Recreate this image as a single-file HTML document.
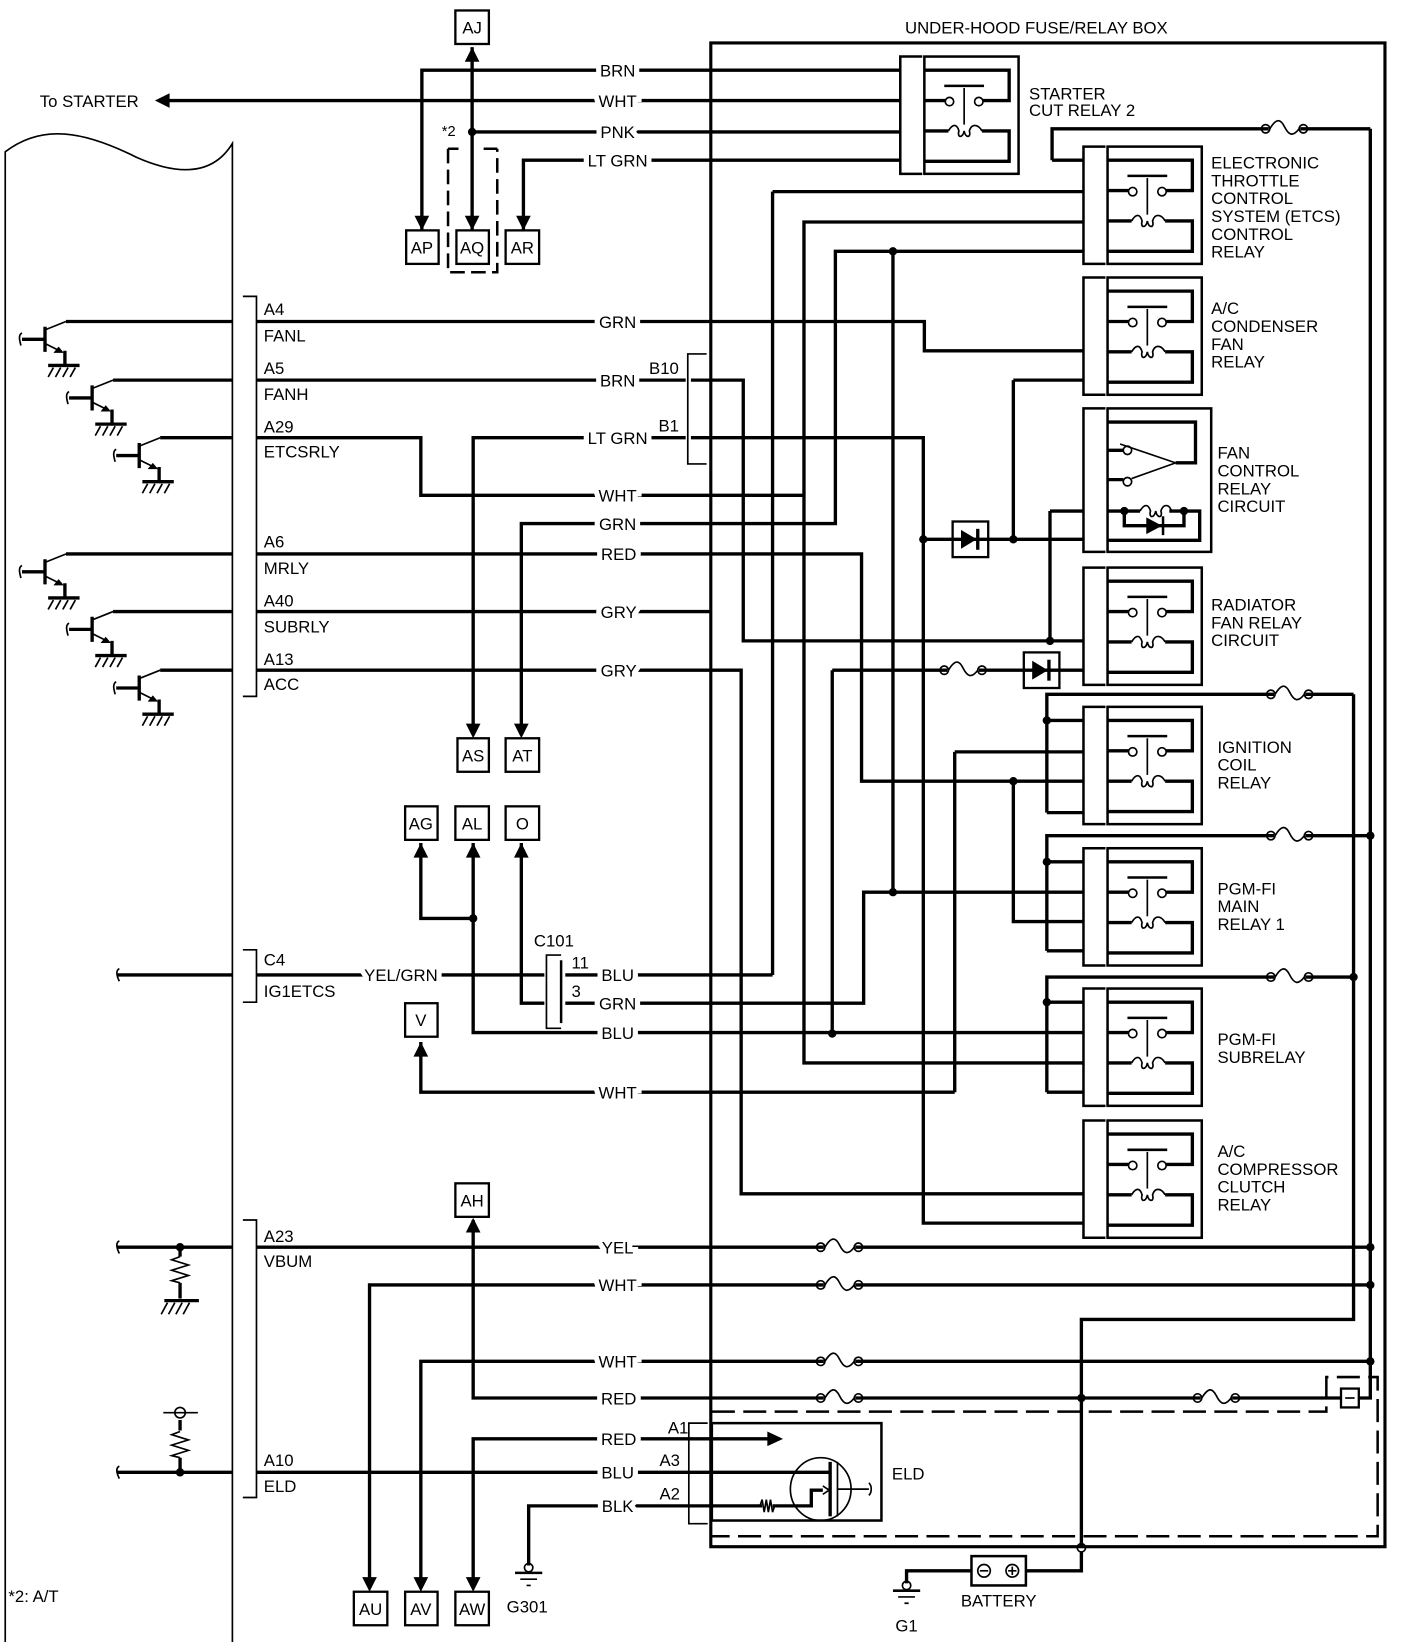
<!DOCTYPE html>
<html><head><meta charset="utf-8"><style>
html,body{margin:0;padding:0;background:#fff}
svg{display:block}
text{font-family:"Liberation Sans",Arial,sans-serif;font-size:16px;fill:#000}
.w{fill:none;stroke:#000;stroke-width:3.2;stroke-linejoin:miter}
.t{fill:none;stroke:#000;stroke-width:1.6}
.m{fill:none;stroke:#000;stroke-width:2.4}
.l{paint-order:stroke;stroke:#fff;stroke-width:10px;text-anchor:middle}
.bx{fill:#fff;stroke:#000;stroke-width:2.2}
</style></head><body>
<svg width="1408" height="1642" viewBox="0 0 1345 1568" preserveAspectRatio="none" xmlns="http://www.w3.org/2000/svg">
<defs>
<g id="rl">
<path class="m" d="M21,-13H0V99H21"/>
<rect class="m" x="23" y="-13" width="90" height="112"/>
<path class="w" d="M23,0H104V29H79 M23,29H43 M23,58H46 M78,58H104V87H23"/>
<circle class="t" cx="47" cy="30" r="4" fill="#fff"/><circle class="t" cx="75" cy="30" r="4" fill="#fff"/>
<path class="m" d="M42,15H80"/><path class="t" d="M61,17V52"/>
<path class="t" d="M46,58c4,-7 8,-7 10,0c-2,7 4,7 5,0c1,7 7,7 5,0c2,-7 8,-7 12,0"/>
</g>
<g id="fu"><path d="M-15,0H15" stroke="#fff" stroke-width="6"/><circle class="t" cx="-18" cy="0" r="4" fill="#fff"/><circle class="t" cx="18" cy="0" r="4" fill="#fff"/><path class="t" d="M-14,0C-8,-10 -4,-10 0,-2S8,8 14,0"/></g>
<g id="di"><rect class="bx" x="-17" y="-17" width="34" height="34"/><path class="w" d="M-17,0H17"/><polygon points="-9,-9 -9,9 6,0" fill="#000"/><path class="w" d="M7,-10V10"/></g>
<g id="au"><polygon points="0,0 -7,14 7,14" fill="#000"/></g>
<g id="ad"><polygon points="0,0 -7,-14 7,-14" fill="#000"/></g>
<g id="tr">
<path class="t" d="M20,0L0,8"/><path class="w" d="M0,5V29 M-22,17H0"/>
<path class="t" d="M-22,11c-4,2 -2,8 -1,12"/>
<path class="t" d="M0,21L16,29"/><polygon points="18,30 8,30 13,24" fill="#000"/>
<path class="w" d="M19,28V42 M3,42H33"/>
<path class="t" d="M8,44l-5,9 M15,44l-5,9 M22,44l-5,9 M29,44l-5,9"/>
</g>
</defs>

<!-- ECM -->
<path class="t" d="M5,1570V145C40,118 80,125 130,150C175,170 205,165 222,137V1570"/>
<path class="t" d="M232,283H245V665H232 M232,907H245V957H232 M232,1165H245V1430H232"/>
<text x="252" y="301">A4</text><text x="252" y="326">FANL</text>
<text x="252" y="357">A5</text><text x="252" y="382">FANH</text>
<text x="252" y="413">A29</text><text x="252" y="437">ETCSRLY</text>
<text x="252" y="523">A6</text><text x="252" y="548">MRLY</text>
<text x="252" y="579">A40</text><text x="252" y="604">SUBRLY</text>
<text x="252" y="635">A13</text><text x="252" y="659">ACC</text>
<text x="252" y="922">C4</text><text x="252" y="952">IG1ETCS</text>
<text x="252" y="1186">A23</text><text x="252" y="1210">VBUM</text>
<text x="252" y="1400">A10</text><text x="252" y="1425">ELD</text>
<use href="#tr" x="43" y="307"/><use href="#tr" x="88" y="363"/><use href="#tr" x="133" y="418"/>
<use href="#tr" x="43" y="529"/><use href="#tr" x="88" y="584"/><use href="#tr" x="133" y="640"/>
<path class="w" d="M63,307H222 M108,363H222 M153,418H222 M63,529H222 M108,584H222 M153,640H222"/>
<path class="w" d="M112,931H222 M112,1191H222 M112,1406H222"/>
<path class="t" d="M114,925c-4,2 -2,8 0,12 M114,1185c-4,2 -2,8 0,12 M114,1400c-4,2 -2,8 0,12"/>
<!-- VBUM resistor -->
<circle cx="172" cy="1191" r="4"/>
<path class="w" d="M172,1191V1200 M172,1225V1240 M157,1242H190"/>
<path class="t" d="M172,1200l-8,3 16,5 -16,5 16,5 -16,5 8,2 M160,1244l-6,11 M167,1244l-6,11 M174,1244l-6,11 M181,1244l-6,11"/>
<!-- ELD pullup -->
<path class="w" d="M172,1406V1392 M172,1366V1356"/>
<path class="t" d="M156,1349H189 M172,1367l-8,3 16,5 -16,5 16,5 -16,5 8,2"/>
<circle class="t" cx="172" cy="1349" r="5" fill="#fff"/><circle cx="172" cy="1406" r="4"/>

<!-- top area -->
<text x="38" y="102">To STARTER</text>
<polygon points="148,96 162,89 162,103" fill="#000"/>
<path class="w" d="M160,96H860 M403,220V67H860 M451,45V220 M451,126H860 M500,220V153H860"/>
<circle cx="451" cy="126" r="4"/>
<use href="#au" x="451" y="45"/><use href="#ad" x="403" y="220"/><use href="#ad" x="451" y="220"/><use href="#ad" x="500" y="220"/>
<text x="422" y="130" style="font-size:14px">*2</text>
<path class="m" d="M428,142V260H475V142" stroke-dasharray="14,6"/>
<path class="m" d="M428,142H438 M462,142H475"/>
<rect class="bx" x="435" y="10" width="32" height="32"/><text x="451" y="32" text-anchor="middle">AJ</text>
<rect class="bx" x="388" y="220" width="31" height="32"/><text x="403" y="242" text-anchor="middle">AP</text>
<rect class="bx" x="436" y="220" width="31" height="32"/><text x="451" y="242" text-anchor="middle">AQ</text>
<rect class="bx" x="483" y="220" width="32" height="32"/><text x="499" y="242" text-anchor="middle">AR</text>

<!-- main box -->
<rect x="679" y="41" width="644" height="1436" fill="none" stroke="#000" stroke-width="3"/>
<text x="990" y="32" text-anchor="middle">UNDER-HOOD FUSE/RELAY BOX</text>
<path class="m" d="M680,1348H1267V1315H1316V1467H680" stroke-dasharray="22,8"/>

<!-- relays -->
<use href="#rl" x="860" y="67"/>
<use href="#rl" x="1035" y="153"/>
<use href="#rl" x="1035" y="278"/>
<use href="#rl" x="1035" y="555"/>
<use href="#rl" x="1035" y="688"/>
<use href="#rl" x="1035" y="823"/>
<use href="#rl" x="1035" y="957"/>
<use href="#rl" x="1035" y="1083"/>
<!-- fan control relay -->
<g transform="translate(1035,403)">
<path class="m" d="M21,-13H0V124H21"/>
<rect class="m" x="23" y="-13" width="99" height="137"/>
<path class="w" d="M23,0H107V39H88 M23,27H38 M23,55H38 M23,85H54 M82,85H111V113H23 M39,85V99H96V85"/>
<circle class="t" cx="42" cy="27" r="4" fill="#fff"/><circle class="t" cx="42" cy="57" r="4" fill="#fff"/>
<path class="t" d="M88,39L35,21 M88,39L46,54"/>
<path class="t" d="M54,85c4,-7 8,-7 10,0c-2,7 4,7 5,0c1,7 7,7 5,0c2,-7 8,-7 10,0"/>
<circle cx="39" cy="85" r="4"/><circle cx="96" cy="85" r="4"/>
<polygon points="60,91 60,107 75,99" fill="#000"/><path class="m" d="M76,90V108"/>
</g>
<g font-size="16">
<text x="983" y="95">STARTER</text><text x="983" y="111">CUT RELAY 2</text>
<text x="1157" y="161">ELECTRONIC</text><text x="1157" y="178">THROTTLE</text><text x="1157" y="195">CONTROL</text><text x="1157" y="212">SYSTEM (ETCS)</text><text x="1157" y="229">CONTROL</text><text x="1157" y="246">RELAY</text>
<text x="1157" y="300">A/C</text><text x="1157" y="317">CONDENSER</text><text x="1157" y="334">FAN</text><text x="1157" y="351">RELAY</text>
<text x="1163" y="438">FAN</text><text x="1163" y="455">CONTROL</text><text x="1163" y="472">RELAY</text><text x="1163" y="489">CIRCUIT</text>
<text x="1157" y="583">RADIATOR</text><text x="1157" y="600">FAN RELAY</text><text x="1157" y="617">CIRCUIT</text>
<text x="1163" y="719">IGNITION</text><text x="1163" y="736">COIL</text><text x="1163" y="753">RELAY</text>
<text x="1163" y="854">PGM-FI</text><text x="1163" y="871">MAIN</text><text x="1163" y="888">RELAY 1</text>
<text x="1163" y="998">PGM-FI</text><text x="1163" y="1015">SUBRELAY</text>
<text x="1163" y="1105">A/C</text><text x="1163" y="1122">COMPRESSOR</text><text x="1163" y="1139">CLUTCH</text><text x="1163" y="1156">RELAY</text>
</g>

<!-- B connector -->
<path class="t" d="M675,338H657V443H675"/>
<text x="620" y="357">B10</text><text x="629" y="412">B1</text>

<!-- wires middle -->
<path class="w" d="
M245,307H883V335H1035
M245,363H655 M660,363H710V612H1035
M452,700V418H655 M660,418H882V1168H1035
M245,418H402V473H768V212H1035 M768,473V1015H1035
M498,700V500H798V240H1035
M245,529H823V746H1035
M245,584H680
M245,640H708V1140H1035
M738,183H1035 M738,183V931
M853,240V852
M968,363H1035 M968,363V515
M882,515H1035
M1003,488H1035 M1003,488V612
M795,640H1035 M795,640V987
M912,718H1035 M912,718V1043
M968,746V880H1035
M1005,153H1035 M1005,153V123H1309
M1000,776V663H1293 M1000,688H1035 M1000,776H1035
M1000,908V798H1309 M1000,823H1035 M1000,908H1035
M1000,1043V933H1293 M1000,957H1035 M1000,1043H1035
M1293,663V1260H1033V1478
M1309,123V1335H1298
"/>
<use href="#ad" x="452" y="705"/><use href="#ad" x="498" y="705"/>
<g fill="#000">
<circle cx="853" cy="240" r="4"/><circle cx="853" cy="852" r="4"/><circle cx="968" cy="515" r="4"/><circle cx="882" cy="515" r="4"/>
<circle cx="1003" cy="612" r="4"/><circle cx="795" cy="987" r="4"/><circle cx="968" cy="746" r="4"/>
<circle cx="1000" cy="688" r="4"/><circle cx="1000" cy="823" r="4"/><circle cx="1000" cy="957" r="4"/>
<circle cx="1309" cy="798" r="4"/><circle cx="1293" cy="933" r="4"/><circle cx="1309" cy="1191" r="4"/><circle cx="1309" cy="1227" r="4"/><circle cx="1309" cy="1300" r="4"/><circle cx="1033" cy="1335" r="4"/>
<circle cx="452" cy="877" r="4"/>
</g>
<use href="#di" x="927" y="515"/><use href="#di" x="995" y="640"/>
<use href="#fu" x="920" y="640"/>
<use href="#fu" x="1227" y="123"/><use href="#fu" x="1232" y="663"/><use href="#fu" x="1232" y="798"/><use href="#fu" x="1232" y="933"/>
<rect class="bx" x="437" y="705" width="30" height="32"/><text x="452" y="727" text-anchor="middle">AS</text>
<rect class="bx" x="483" y="705" width="32" height="32"/><text x="499" y="727" text-anchor="middle">AT</text>

<!-- C101 area -->
<path class="w" d="M245,931H520 M540,931H738 M498,805V958H520 M540,958H825V852H1035 M452,805V986H1035 M402,805V877H452 M402,995V1043H912"/>
<use href="#au" x="402" y="805"/><use href="#au" x="452" y="805"/><use href="#au" x="498" y="805"/><use href="#au" x="402" y="995"/>
<path class="t" d="M536,912H522V982H536"/><path class="m" d="M536,917V977"/>
<text x="510" y="904">C101</text><text x="546" y="925">11</text><text x="546" y="952">3</text>
<rect class="bx" x="387" y="770" width="31" height="32"/><text x="402" y="792" text-anchor="middle">AG</text>
<rect class="bx" x="435" y="770" width="32" height="32"/><text x="451" y="792" text-anchor="middle">AL</text>
<rect class="bx" x="483" y="770" width="32" height="32"/><text x="499" y="792" text-anchor="middle">O</text>
<rect class="bx" x="387" y="958" width="31" height="32"/><text x="402" y="980" text-anchor="middle">V</text>

<!-- bottom -->
<path class="w" d="M245,1191H1309 M353,1510V1227H1309 M402,1510V1300H1309 M452,1165V1335H1281 M452,1510V1374H745 M245,1406H792 M505,1495V1438H730 M738,1438H775V1423H786"/>
<use href="#au" x="452" y="1163"/><use href="#ad" x="353" y="1520"/><use href="#ad" x="402" y="1520"/><use href="#ad" x="452" y="1520"/>
<polygon points="748,1374 733,1367 733,1381" fill="#000"/>
<use href="#fu" x="802" y="1191"/><use href="#fu" x="802" y="1227"/><use href="#fu" x="802" y="1300"/><use href="#fu" x="802" y="1335"/><use href="#fu" x="1162" y="1335"/>
<rect class="bx" x="1281" y="1326" width="17" height="18"/><path class="t" d="M1285,1335H1294"/>
<rect class="bx" x="435" y="1130" width="32" height="32"/><text x="451" y="1152" text-anchor="middle">AH</text>
<rect class="bx" x="338" y="1520" width="32" height="32"/><text x="354" y="1542" text-anchor="middle">AU</text>
<rect class="bx" x="387" y="1520" width="31" height="32"/><text x="402" y="1542" text-anchor="middle">AV</text>
<rect class="bx" x="435" y="1520" width="32" height="32"/><text x="451" y="1542" text-anchor="middle">AW</text>
<circle class="t" cx="505" cy="1497" r="4" fill="#fff"/><path class="m" d="M492,1502H518"/><path class="t" d="M497,1508H513 M503,1514H507"/>
<text x="484" y="1540">G301</text>
<text x="8" y="1530">*2: A/T</text>
<!-- ELD -->
<path class="t" d="M676,1359H658V1455H676"/>
<rect x="680" y="1359" width="162" height="93" fill="none" stroke="#000" stroke-width="2.4"/>
<text x="638" y="1369">A1</text><text x="630" y="1400">A3</text><text x="630" y="1432">A2</text>
<text x="852" y="1413">ELD</text>
<path d="M728,1438H738" stroke="#fff" stroke-width="5"/>
<path class="t" d="M726,1438l2,-6 2,12 2,-12 2,12 2,-12 2,12 2,-6"/>
<ellipse class="t" cx="784" cy="1422" rx="29" ry="30" fill="none"/>
<path class="w" d="M793,1396V1448"/><path class="t" d="M800,1396V1448 M800,1422H830 M830,1416c3,3 3,9 0,12"/>
<path class="t" d="M786,1419l6,4 -6,4"/>
<!-- battery -->
<circle class="t" cx="1033" cy="1478" r="4" fill="#fff"/>
<path class="w" d="M1033,1482V1500H980 M928,1500H866V1512"/>
<rect x="928" y="1486" width="52" height="28" fill="#fff" stroke="#000" stroke-width="2.4"/>
<circle class="t" cx="940" cy="1500" r="6"/><path class="t" d="M936,1500H944"/>
<circle class="t" cx="967" cy="1500" r="6"/><path class="t" d="M963,1500H971 M967,1496V1504"/>
<circle class="t" cx="866" cy="1514" r="4" fill="#fff"/><path class="m" d="M853,1519H879"/><path class="t" d="M858,1525H874 M864,1531H868"/>
<text x="954" y="1534" text-anchor="middle">BATTERY</text>
<text x="866" y="1558" text-anchor="middle">G1</text>

<!-- wire labels -->
<g class="lg">
<text class="l" x="590" y="73">BRN</text><text class="l" x="590" y="102">WHT</text><text class="l" x="590" y="132">PNK</text><text class="l" x="590" y="159">LT GRN</text>
<text class="l" x="590" y="313">GRN</text><text class="l" x="590" y="369">BRN</text><text class="l" x="590" y="424">LT GRN</text><text class="l" x="590" y="479">WHT</text><text class="l" x="590" y="506">GRN</text><text class="l" x="591" y="535">RED</text><text class="l" x="591" y="590">GRY</text><text class="l" x="591" y="646">GRY</text>
<text class="l" x="383" y="937">YEL/GRN</text><text class="l" x="590" y="937">BLU</text><text class="l" x="590" y="964">GRN</text><text class="l" x="590" y="992">BLU</text><text class="l" x="590" y="1049">WHT</text>
<text class="l" x="590" y="1197">YEL</text><text class="l" x="590" y="1233">WHT</text><text class="l" x="590" y="1306">WHT</text><text class="l" x="591" y="1341">RED</text>
<text class="l" x="591" y="1380">RED</text><text class="l" x="590" y="1412">BLU</text><text class="l" x="590" y="1444">BLK</text>
</g>
</svg>
</body></html>
